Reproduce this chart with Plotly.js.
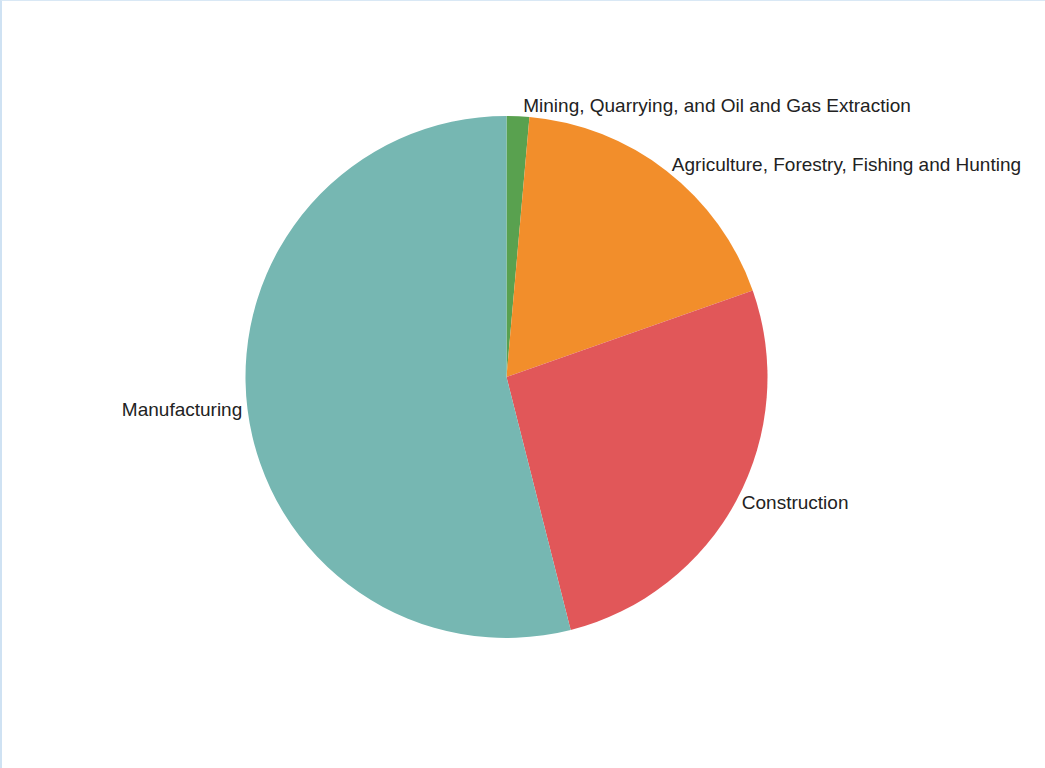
<!DOCTYPE html>
<html>
<head>
<meta charset="utf-8">
<script src="https://cdn.plot.ly/plotly-3.0.1.min.js"></script>
<style>
html,body{margin:0;padding:0;background:#fff;}
#frame{position:absolute;left:0;top:0;width:1045px;height:768px;box-sizing:border-box;border-left:2px solid #cfe2f3;border-top:1px solid #d9e8f5;}
#chart{width:1043px;height:767px;}
</style>
</head>
<body>
<div id="frame"><div id="chart"></div></div>
<script>
const categories = ["Mining, Quarrying, and Oil and Gas Extraction", "Agriculture, Forestry, Fishing and Hunting", "Construction", "Manufacturing"];
const values = [1.4, 18.2, 26.4, 53.9];
const colors = ["#59a14f", "#f28e2b", "#e15759", "#76b7b2"];

Plotly.newPlot("chart", [{
  type: "pie",
  labels: categories,
  values: values,
  sort: false,
  direction: "clockwise",
  rotation: 0,
  textinfo: "label",
  textposition: "outside",
  hoverinfo: "label+percent",
  marker: {colors: colors, line: {width: 0}},
  outsidetextfont: {family: "Liberation Sans, Arial, sans-serif", size: 19, color: "#222"},
  showlegend: false
}], {
  width: 1043,
  height: 767,
  margin: {l: 243, r: 277, t: 115, b: 130},
  paper_bgcolor: "#fff",
  showlegend: false
}, {displayModeBar: false, staticPlot: true});
</script>
</body>
</html>
